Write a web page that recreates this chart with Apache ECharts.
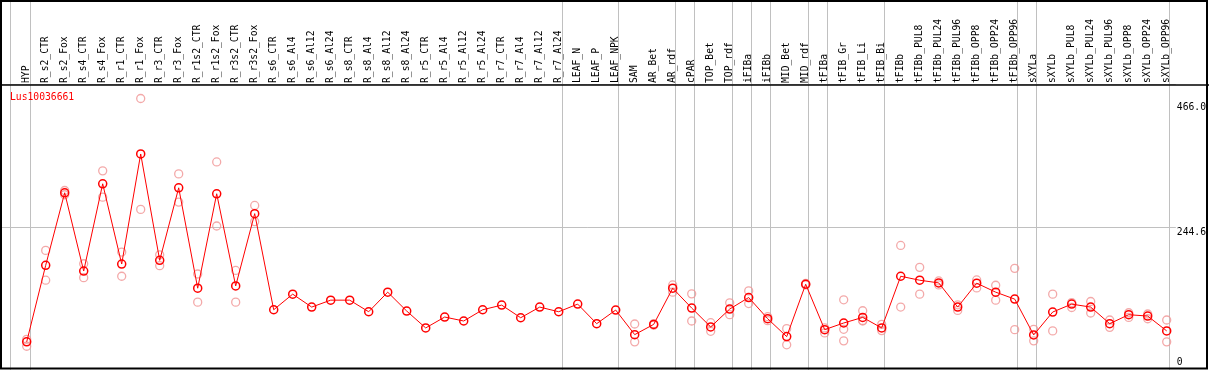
<!DOCTYPE html>
<html><head><meta charset="utf-8">
<script src="https://cdn.jsdelivr.net/npm/echarts@6/dist/echarts.min.js"></script>
<style>html,body{margin:0;padding:0;background:#fff}#c{width:1209px;height:370px}</style>
</head><body><div id="c"></div>
<script>
const geneName = 'Lus10036661';
const categories = ['HYP','R_s2_CTR','R_s2_Fox','R_s4_CTR','R_s4_Fox','R_r1_CTR','R_r1_Fox','R_r3_CTR','R_r3_Fox','R_r1s2_CTR','R_r1s2_Fox','R_r3s2_CTR','R_r3s2_Fox','R_s6_CTR','R_s6_Al4','R_s6_Al12','R_s6_Al24','R_s8_CTR','R_s8_Al4','R_s8_Al12','R_s8_Al24','R_r5_CTR','R_r5_Al4','R_r5_Al12','R_r5_Al24','R_r7_CTR','R_r7_Al4','R_r7_Al12','R_r7_Al24','LEAF_N','LEAF_P','LEAF_NPK','SAM','AR_Bet','AR_rdf','cPAR','TOP_Bet','TOP_rdf','iFIBa','iFIBb','MID_Bet','MID_rdf','tFIBa','tFIB_Gr','tFIB_Li','tFIB_Bi','tFIBb','tFIBb_PUL8','tFIBb_PUL24','tFIBb_PUL96','tFIBb_OPP8','tFIBb_OPP24','tFIBb_OPP96','sXYLa','sXYLb','sXYLb_PUL8','sXYLb_PUL24','sXYLb_PUL96','sXYLb_OPP8','sXYLb_OPP24','sXYLb_OPP96'];
const meanValues = [48.3,179.7,304.2,169.9,319.6,181.9,370.8,188.2,312.7,140.4,302.5,144.3,268.4,103.4,130.2,108.0,119.9,119.9,100.0,133.6,101.2,72.2,90.9,84.1,103.4,111.4,89.7,108.0,100.0,113.1,79.5,102.9,60.7,78.3,140.4,106.3,73.9,104.6,124.4,88.0,57.3,147.2,69.3,80.7,90.3,72.2,160.9,154.1,149.5,108.0,149.0,133.6,121.7,60.2,99.5,113.1,108.0,79.5,94.9,92.6,67.1];
const rep1 = [52.7,205.3,308.1,182.4,341.8,202.4,466.0,197.7,336.6,164.8,357.1,170.9,282.5,null,null,null,null,null,null,null,null,null,null,null,null,null,null,null,null,null,null,null,79.0,79.5,146.0,130.7,81.2,115.3,135.8,91.5,71.0,148.5,72.2,120.5,101.7,78.3,213.8,176.2,152.9,111.9,154.6,145.5,174.5,69.8,130.2,115.8,117.6,85.8,98.3,96.1,85.8];
const rep2 = [40.8,154.1,300.8,158.5,296.7,160.9,275.7,179.0,288.2,116.5,247.2,116.5,254.7,null,null,null,null,null,null,null,null,null,null,null,null,null,null,null,null,null,null,null,48.3,77.0,133.6,84.1,66.4,94.9,114.1,84.6,43.2,146.0,63.6,69.8,84.1,67.6,108.0,130.2,146.0,102.2,140.9,119.9,69.3,50.0,67.1,107.3,97.8,73.2,90.3,88.0,48.3];
const rep3 = [null,null,null,null,null,null,null,null,null,null,null,null,null,null,null,null,null,null,null,null,null,null,null,null,null,null,null,null,null,null,null,null,null,null,null,null,null,null,null,null,null,null,null,50.0,85.1,null,null,null,null,null,null,null,null,null,null,null,null,null,null,null,null];
const groupStarts = [-1];
const groupEnds = [0,28,31,34,35,37,38,39,41,42,45,52,53,60];
const yMid = 244.6;
const yTopLabel = 466.0;
const yMidLabel = [yMid];
const yMaxLabel = [yTopLabel];
const yZeroLabel = [0];

const FONT = '"DejaVu Sans Mono", "Liberation Mono", monospace';
const RED = '#ff0000';
const PALE = '#f09494';
const GRID_C = '#c0c0c0';

// layout
const plotTop = 85, plotH = 286.6, step = 19, firstX = 26.7;
const yMax = yMid * 2;
const fullMax = yMax * (plotTop + plotH) / plotH;
const n = categories.length;
const bandLeft = firstX - step / 2;
const outerW = 1177;
const xMin = -firstX / step, xMax = (outerW - firstX) / step;

const paleData = [];
[rep1, rep2, rep3].forEach(r => r.forEach((v, i) => { if (v != null) paleData.push([i, v]); }));

const sepX = groupStarts.map(i => i + 0.16).concat(groupEnds.map(i => i + 0.19));
const sepData = sepX.map(x => ({coords: [[x, 0], [x, fullMax]]}));

function labelAxis(values, vAlign, pad, fmt) {
  return {gridIndex: 1, type: 'value', min: 0, max: fullMax, position: 'right',
    axisLine: {show: false}, axisTick: {show: false}, splitLine: {show: false},
    axisLabel: {customValues: values, margin: 1, verticalAlign: vAlign, padding: pad,
      color: '#000', fontSize: 9.7, fontFamily: FONT, formatter: fmt}};
}

const chart = echarts.init(document.getElementById('c'), null, {renderer: 'canvas'});
chart.setOption({
  animation: false,
  backgroundColor: '#fff',
  title: {text: geneName, left: 10, top: 92, padding: 0,
    textStyle: {color: RED, fontSize: 9.7, fontFamily: FONT, fontWeight: 'normal'}},
  grid: [
    {left: bandLeft, width: step * n, top: plotTop, height: plotH},
    {left: 0, width: outerW, top: 0, height: plotTop + plotH}
  ],
  xAxis: [
    {gridIndex: 0, type: 'category', data: categories, position: 'top', boundaryGap: true,
      axisLine: {show: false}, axisTick: {show: false}, splitLine: {show: false},
      axisLabel: {interval: 0, rotate: 90, margin: 2, color: '#000', fontSize: 9.7, fontFamily: FONT}},
    {gridIndex: 1, type: 'value', min: xMin, max: xMax, show: false}
  ],
  yAxis: [
    {gridIndex: 0, type: 'value', min: 0, max: yMax, show: false},
    {gridIndex: 1, type: 'value', min: 0, max: fullMax, interval: yMid, position: 'right',
      axisLine: {show: false}, axisTick: {show: false},
      splitLine: {show: true, lineStyle: {color: GRID_C, width: 1}},
      axisLabel: {customValues: yMidLabel, margin: 1, verticalAlign: 'top', color: '#000',
        fontSize: 9.7, fontFamily: FONT, formatter: v => v.toFixed(1)}},
    labelAxis(yMaxLabel, 'top', [4, 0, 0, 0], v => v.toFixed(1)),
    labelAxis(yZeroLabel, 'bottom', [0, 0, 3, 0], v => String(v))
  ],
  series: [
    {type: 'lines', coordinateSystem: 'cartesian2d', xAxisIndex: 1, yAxisIndex: 1, silent: true,
      lineStyle: {color: GRID_C, width: 1, opacity: 1, curveness: 0}, data: sepData, z: 1},
    {type: 'scatter', xAxisIndex: 0, yAxisIndex: 0, data: paleData, symbol: 'circle', symbolSize: 8,
      itemStyle: {color: 'rgba(0,0,0,0)', borderColor: PALE, borderWidth: 1.3}, z: 3},
    {type: 'line', xAxisIndex: 0, yAxisIndex: 0, data: meanValues, symbol: 'circle', symbolSize: 8,
      showSymbol: true, lineStyle: {color: RED, width: 1},
      itemStyle: {color: 'rgba(255,255,255,0)', borderColor: RED, borderWidth: 1.5}, z: 4}
  ],
  graphic: [
    {type: 'line', z: 100, shape: {x1: 0, y1: plotTop, x2: 1209, y2: plotTop}, style: {stroke: '#000', lineWidth: 1.5}},
    {type: 'rect', z: 100, shape: {x: 1, y: 1, width: 1206, height: 367.5}, style: {fill: null, stroke: '#000', lineWidth: 2}}
  ]
});
</script></body></html>
